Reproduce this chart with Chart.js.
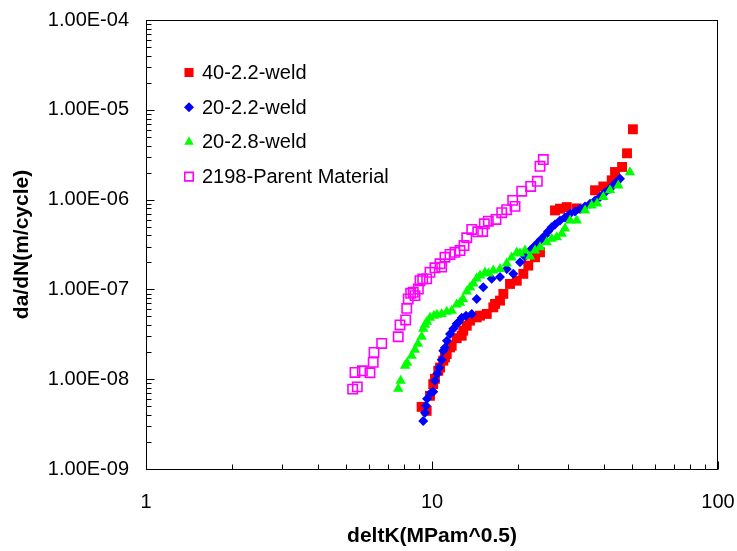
<!DOCTYPE html>
<html>
<head>
<meta charset="utf-8">
<script src="https://cdn.jsdelivr.net/npm/chart.js@4/dist/chart.umd.min.js"></script>
<style>
  html, body { margin: 0; padding: 0; background: #ffffff; }
  #wrap { width: 737px; height: 551px; }
</style>
</head>
<body>
<div id="wrap"><canvas id="c" width="737" height="551"></canvas></div>
<script>
// ---------- DATA ----------
const seriesNames = ['40-2.2-weld', '20-2.2-weld', '20-2.8-weld', '2198-Parent Material'];

const weld40_22_dK = [9.20, 9.58, 9.84, 10.10, 10.24, 10.52, 10.67, 10.95, 11.10, 11.26, 11.56, 11.72, 12.20, 12.70, 12.86, 13.23, 13.58, 14.33, 14.72, 15.54, 16.38, 16.61, 17.29, 17.76, 18.74, 19.79, 20.86, 21.71, 22.92, 23.86, 26.92, 28.03, 29.58, 32.06, 37.16, 39.72, 42.50, 43.65, 46.2, 48.07, 50.4];
const weld40_22_dadN = [4.92e-9, 4.44e-9, 6.53e-9, 8.82e-9, 1.01e-8, 1.24e-8, 1.35e-8, 1.61e-8, 1.75e-8, 1.91e-8, 2.26e-8, 2.36e-8, 2.86e-8, 3.05e-8, 3.47e-8, 3.94e-8, 4.49e-8, 4.88e-8, 5.10e-8, 5.33e-8, 6.31e-8, 6.89e-8, 7.50e-8, 8.91e-8, 1.15e-7, 1.25e-7, 1.49e-7, 1.84e-7, 2.28e-7, 2.59e-7, 7.58e-7, 7.92e-7, 8.25e-7, 7.98e-7, 1.27e-6, 1.40e-6, 1.64e-6, 2.03e-6, 2.31e-6, 3.28e-6, 6.07e-6];

const weld20_22_dK = [9.32, 9.45, 9.53, 9.61, 9.92, 10.10, 10.24, 10.43, 10.60, 10.81, 10.95, 11.10, 11.28, 11.56, 11.87, 12.20, 12.36, 12.70, 13.15, 13.77, 14.33, 15.11, 16.17, 17.29, 18.25, 19.24, 20.31, 21.14, 22.01, 22.74, 23.53, 24.05, 24.84, 25.44, 26.21, 26.92, 28.03, 29.17, 30.38, 31.62, 32.92, 34.28, 35.69, 37.16, 38.68, 40.26, 41.92, 42.95, 44.24, 45.43];
const weld20_22_dadN = [3.43e-9, 4.22e-9, 5.05e-9, 6.04e-9, 7.05e-9, 7.23e-9, 9.60e-9, 1.15e-8, 1.34e-8, 1.65e-8, 2.07e-8, 2.24e-8, 2.68e-8, 3.19e-8, 3.65e-8, 4.15e-8, 4.29e-8, 4.84e-8, 5.10e-8, 5.33e-8, 7.83e-8, 1.06e-7, 1.31e-7, 1.37e-7, 1.69e-7, 1.49e-7, 2.01e-7, 2.32e-7, 2.71e-7, 3.00e-7, 3.35e-7, 3.60e-7, 3.99e-7, 4.42e-7, 4.93e-7, 5.29e-7, 5.86e-7, 6.33e-7, 6.96e-7, 7.39e-7, 7.92e-7, 8.40e-7, 9.00e-7, 9.80e-7, 1.07e-6, 1.20e-6, 1.32e-6, 1.44e-6, 1.57e-6, 1.71e-6];

const weld20_28_dK = [7.62, 7.77, 8.05, 8.18, 8.49, 8.72, 8.93, 9.20, 9.32, 9.45, 9.61, 9.84, 10.16, 10.41, 10.81, 11.26, 11.72, 12.20, 12.53, 12.83, 13.23, 13.58, 13.95, 14.33, 14.72, 15.32, 15.74, 16.38, 17.29, 18.25, 18.99, 19.79, 20.31, 21.14, 22.01, 22.92, 23.86, 25.18, 26.21, 27.29, 28.41, 29.17, 30.38, 32.06, 34.28, 36.18, 37.76, 39.72, 41.92, 44.82, 49.2];
const weld20_28_dadN = [7.81e-9, 9.60e-9, 1.41e-8, 1.52e-8, 1.83e-8, 2.13e-8, 2.48e-8, 2.97e-8, 3.65e-8, 4.05e-8, 4.37e-8, 4.84e-8, 5.10e-8, 5.23e-8, 5.33e-8, 5.65e-8, 5.80e-8, 6.77e-8, 7.12e-8, 7.83e-8, 9.45e-8, 1.05e-7, 1.16e-7, 1.32e-7, 1.43e-7, 1.54e-7, 1.50e-7, 1.62e-7, 1.69e-7, 1.94e-7, 2.26e-7, 2.57e-7, 2.51e-7, 2.71e-7, 2.32e-7, 2.71e-7, 2.95e-7, 3.35e-7, 3.66e-7, 3.82e-7, 4.16e-7, 4.77e-7, 5.86e-7, 5.86e-7, 7.58e-7, 8.62e-7, 9.07e-7, 1.07e-6, 1.27e-6, 1.44e-6, 2.01e-6];

const parent2198_dK = [5.28, 5.48, 5.38, 5.71, 6.07, 6.23, 6.27, 6.67, 7.62, 7.73, 8.09, 8.16, 8.26, 8.42, 8.60, 8.72, 8.96, 9.08, 9.28, 9.58, 9.84, 10.24, 10.67, 10.81, 11.10, 11.56, 12.03, 12.53, 12.94, 13.23, 13.77, 14.45, 15.04, 15.24, 15.74, 16.74, 17.53, 18.25, 19.15, 19.51, 20.59, 22.13, 23.35, 23.86, 24.50];
const parent2198_dadN = [7.75e-9, 8.22e-9, 1.19e-8, 1.24e-8, 1.18e-8, 1.54e-8, 1.99e-8, 2.50e-8, 2.97e-8, 4.02e-8, 4.57e-8, 6.15e-8, 7.83e-8, 9.05e-8, 9.28e-8, 8.53e-8, 1.01e-7, 1.25e-7, 1.31e-7, 1.31e-7, 1.55e-7, 1.74e-7, 1.93e-7, 1.77e-7, 2.28e-7, 2.45e-7, 2.59e-7, 2.71e-7, 3.08e-7, 3.76e-7, 4.65e-7, 4.38e-7, 4.42e-7, 5.38e-7, 5.75e-7, 6.01e-7, 7.14e-7, 7.72e-7, 9.80e-7, 8.40e-7, 1.24e-6, 1.40e-6, 1.60e-6, 2.35e-6, 2.79e-6];

const xTickValues = [1, 10, 100];
const xTickLabels = ['1', '10', '100'];
const yTickValues = [1e-9, 1e-8, 1e-7, 1e-6, 1e-5, 1e-4];
const yTickLabels = ['1.00E-09', '1.00E-08', '1.00E-07', '1.00E-06', '1.00E-05', '1.00E-04'];
const xTitle = 'deltK(MPam^0.5)';
const yTitle = 'da/dN(m/cycle)';

// ---------- STYLE ----------
const FONT = '"Liberation Sans", Arial, Helvetica, sans-serif';
const styles = [
  { pointStyle: 'rect',     radius: 7,   fill: '#FF0000', stroke: '#FF0000', bw: 0,   order: 4 },
  { pointStyle: 'rectRot',  radius: 5,   fill: '#0000FF', stroke: '#0000FF', bw: 0,   order: 3 },
  { pointStyle: 'triangle', radius: 6,   fill: '#00FF00', stroke: '#00FF00', bw: 0,   order: 2 },
  { pointStyle: 'rect',     radius: 6.6, fill: 'rgba(0,0,0,0)', stroke: '#FF00FF', bw: 1.6, order: 1 }
];
const xs = [weld40_22_dK, weld20_22_dK, weld20_28_dK, parent2198_dK];
const ys = [weld40_22_dadN, weld20_22_dadN, weld20_28_dadN, parent2198_dadN];

const datasets = seriesNames.map((name, k) => ({
  label: name,
  data: xs[k].map((x, i) => ({ x: x, y: ys[k][i] })),
  showLine: false,
  pointStyle: styles[k].pointStyle,
  pointRadius: styles[k].radius,
  pointHoverRadius: styles[k].radius,
  backgroundColor: styles[k].fill,
  borderColor: styles[k].stroke,
  borderWidth: styles[k].bw,
  pointBorderWidth: styles[k].bw,
  order: styles[k].order
}));

function drawMarker(ctx, st, x, y, r) {
  ctx.beginPath();
  if (st.pointStyle === 'rect') {
    const s = Math.SQRT1_2 * r;
    ctx.rect(x - s, y - s, 2 * s, 2 * s);
  } else if (st.pointStyle === 'rectRot') {
    ctx.moveTo(x - r, y); ctx.lineTo(x, y - r); ctx.lineTo(x + r, y); ctx.lineTo(x, y + r);
    ctx.closePath();
  } else if (st.pointStyle === 'triangle') {
    let rad = 0;
    ctx.moveTo(x + Math.sin(rad) * r, y - Math.cos(rad) * r);
    rad += 2 * Math.PI / 3;
    ctx.lineTo(x + Math.sin(rad) * r, y - Math.cos(rad) * r);
    rad += 2 * Math.PI / 3;
    ctx.lineTo(x + Math.sin(rad) * r, y - Math.cos(rad) * r);
    ctx.closePath();
  }
  ctx.fillStyle = st.fill;
  ctx.fill();
  if (st.bw > 0) { ctx.lineWidth = st.bw; ctx.strokeStyle = st.stroke; ctx.stroke(); }
}

const framePlugin = {
  id: 'framePlugin',
  afterDraw(chart) {
    const { ctx, chartArea: a, scales } = chart;
    const xs_ = scales.x, ys_ = scales.y;
    ctx.save();
    ctx.strokeStyle = '#000';
    ctx.lineWidth = 1;
    ctx.strokeRect(Math.round(a.left) + 0.5, Math.round(a.top) + 0.5,
                   Math.round(a.right - a.left) - 1, Math.round(a.bottom - a.top));
    const bottom = Math.round(a.bottom) + 0.5;
    const left = Math.round(a.left) + 0.5;
    ctx.beginPath();
    // x ticks (inward)
    for (let d = 0; d <= 2; d++) {
      for (let m = 1; m <= 9; m++) {
        const v = Math.pow(10, d) * m;
        if (v > 100) break;
        const px = Math.round(xs_.getPixelForValue(v)) + 0.5;
        const len = m === 1 ? 8 : 5;
        ctx.moveTo(px, bottom); ctx.lineTo(px, bottom - len);
      }
    }
    // y ticks (inward)
    for (let d = -9; d <= -4; d++) {
      for (let m = 1; m <= 9; m++) {
        const v = m * Math.pow(10, d);
        if (v > 1.0001e-4) break;
        const py = Math.round(ys_.getPixelForValue(v)) + 0.5;
        const len = m === 1 ? 8 : 5;
        ctx.moveTo(left, py); ctx.lineTo(left + len, py);
      }
    }
    ctx.stroke();

    // legend
    const lx = 189, tx = 202, ly0 = 72.5, dy = 34.7;
    ctx.font = '20px ' + FONT;
    ctx.textBaseline = 'middle';
    ctx.textAlign = 'left';
    seriesNames.forEach((name, k) => {
      const y = ly0 + k * dy;
      const st = styles[k];
      const r = st.pointStyle === 'rect' ? (st.bw ? 6 : 6.4) : (st.pointStyle === 'rectRot' ? 5 : 5.5);
      drawMarker(ctx, st, lx, y, r);
      ctx.fillStyle = '#000';
      ctx.fillText(name, tx, y + 1);
    });
    ctx.restore();
  }
};

Chart.defaults.font.family = FONT;
Chart.defaults.color = '#000';

new Chart(document.getElementById('c'), {
  type: 'scatter',
  data: { datasets: datasets },
  options: {
    responsive: false,
    animation: false,
    devicePixelRatio: 1,
    layout: { padding: { top: 20, right: 19, left: 0, bottom: 0 } },
    plugins: { legend: { display: false }, tooltip: { enabled: false } },
    scales: {
      x: {
        type: 'logarithmic', position: 'bottom', min: 1, max: 100,
        grid: { display: false, drawTicks: false },
        border: { display: false },
        afterBuildTicks: s => { s.ticks = xTickValues.map(v => ({ value: v, major: true })); },
        afterFit: s => { s.height = 82; s.paddingLeft = 0; s.paddingRight = 0; },
        ticks: {
          autoSkip: false, maxRotation: 0, minRotation: 0, padding: 21, color: '#000',
          font: { family: FONT, size: 20 },
          callback: (v, i) => xTickLabels[i]
        },
        title: {
          display: true, text: xTitle, color: '#000',
          font: { family: FONT, size: 21, weight: 'bold', lineHeight: 1.2 },
          padding: { top: 0, bottom: 2 }
        }
      },
      y: {
        type: 'logarithmic', position: 'left', min: 1e-9, max: 1e-4,
        grid: { display: false, drawTicks: false },
        border: { display: false },
        afterBuildTicks: s => { s.ticks = yTickValues.map(v => ({ value: v, major: true })); },
        afterFit: s => { s.width = 146; s.paddingTop = 0; s.paddingBottom = 0; },
        ticks: {
          autoSkip: false, padding: 17, color: '#000',
          font: { family: FONT, size: 20 },
          callback: (v, i) => yTickLabels[i]
        },
        title: {
          display: true, text: yTitle, color: '#000',
          font: { family: FONT, size: 21, weight: 'bold', lineHeight: 1.2 },
          padding: { top: 10, bottom: 0 }
        }
      }
    }
  },
  plugins: [framePlugin]
});
</script>
</body>
</html>
